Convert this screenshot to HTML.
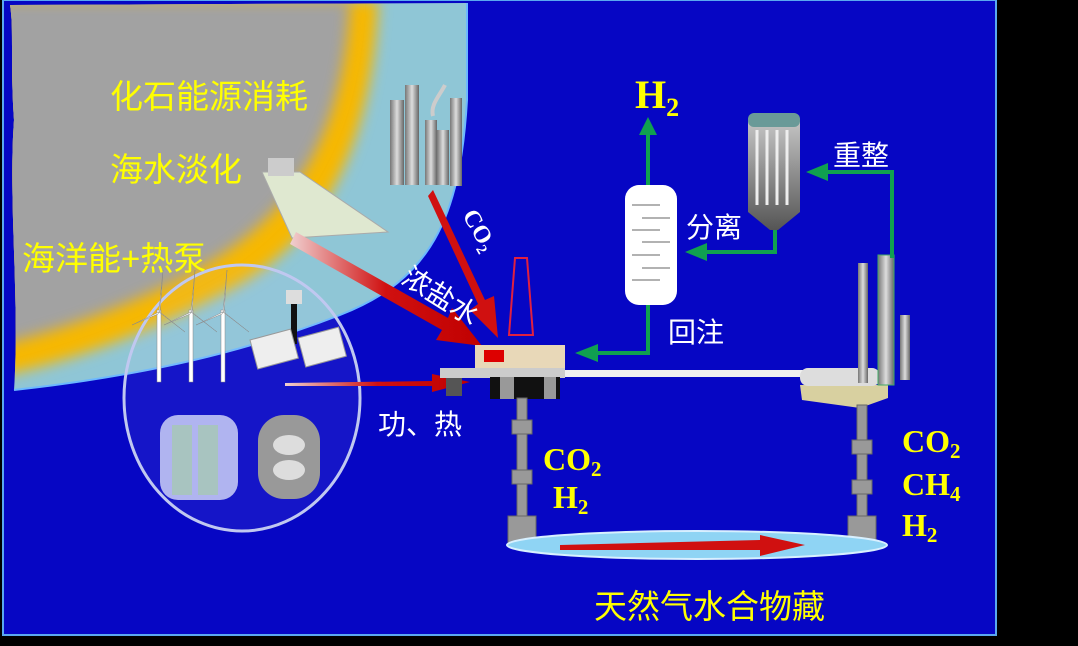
<!DOCTYPE html>
<html><head><meta charset="utf-8"><style>
html,body{margin:0;padding:0;background:#000;width:1078px;height:646px;overflow:hidden}
svg{display:block}
.cn{font-family:"Liberation Sans","Noto Sans CJK SC",sans-serif;font-weight:normal}
.sf{font-family:"Liberation Serif",serif;font-weight:bold;fill:#ffff00}
</style></head><body>
<svg width="1078" height="646" viewBox="0 0 1078 646" xmlns="http://www.w3.org/2000/svg">
<defs>
<filter id="b1" x="-20%" y="-20%" width="140%" height="140%"><feGaussianBlur stdDeviation="7"/></filter>
<linearGradient id="ra" x1="0" y1="0" x2="1" y2="0"><stop offset="0" stop-color="#f0d0d0"/><stop offset="0.5" stop-color="#d01010"/><stop offset="1" stop-color="#c00000"/></linearGradient>
<linearGradient id="tw" x1="0" y1="0" x2="1" y2="0"><stop offset="0" stop-color="#777"/><stop offset="0.5" stop-color="#ddd"/><stop offset="1" stop-color="#666"/></linearGradient>
<linearGradient id="rf" x1="0" y1="0" x2="0" y2="1"><stop offset="0" stop-color="#ccc"/><stop offset="1" stop-color="#555"/></linearGradient>
<clipPath id="outer"><path d="M10,5 L467,3 L467,100 C460,220 430,280 340,315 C250,350 150,375 14,390 C20,300 8,200 14,120 C10,60 14,30 10,5 Z"/></clipPath>
</defs>
<rect x="3" y="0" width="993" height="635" fill="#0606c4" stroke="#5aa8f0" stroke-width="2"/>
<g clip-path="url(#outer)">
<rect x="0" y="0" width="480" height="400" fill="#8fc6d6"/>
<path d="M0,0 L378,0 C372,150 320,245 225,292 C150,332 70,362 0,376 Z" fill="#f7b800" filter="url(#b1)"/>
<path d="M0,0 L350,0 C345,125 300,210 205,265 C135,305 60,330 0,345 Z" fill="#a2a2a2" filter="url(#b1)"/>
</g>
<path d="M467,3 L467,100 C460,220 430,280 340,315 C250,350 150,375 14,390" fill="none" stroke="#6cb8ff" stroke-width="2"/>
<ellipse cx="242" cy="398" rx="118" ry="133" fill="rgba(200,210,255,0.08)" stroke="#c0c8f0" stroke-width="3"/>
<g fill="#fff" stroke="#888" stroke-width="0.5">
<rect x="157" y="310" width="4" height="72"/><path d="M159,312 L163,270 L160,312 Z M159,312 L132,325 L158,314 Z M159,312 L185,332 L161,313 Z"/>
<rect x="189" y="310" width="4" height="72"/><path d="M191,312 L195,270 L192,312 Z M191,312 L164,325 L190,314 Z M191,312 L217,332 L193,313 Z"/>
<rect x="221" y="310" width="4" height="72"/><path d="M223,312 L227,270 L224,312 Z M223,312 L196,325 L222,314 Z M223,312 L249,332 L225,313 Z"/>
</g>
<rect x="291" y="302" width="6" height="42" fill="#111"/><rect x="286" y="290" width="16" height="14" fill="#ddd"/>
<g transform="translate(250,340) rotate(-15)"><rect x="0" y="0" width="42" height="30" fill="#eee" stroke="#999"/></g>
<g transform="translate(298,338) rotate(-15)"><rect x="0" y="0" width="42" height="30" fill="#eee" stroke="#999"/></g>
<rect x="160" y="415" width="78" height="85" rx="18" fill="#b0b4f0"/>
<rect x="172" y="425" width="20" height="70" fill="#a8c4c0"/><rect x="198" y="425" width="20" height="70" fill="#a8c4c0"/>
<rect x="258" y="415" width="62" height="84" rx="26" fill="#999"/>
<ellipse cx="289" cy="445" rx="16" ry="10" fill="#ddd"/><ellipse cx="289" cy="470" rx="16" ry="10" fill="#ddd"/>
<path d="M262,172 L300,172 L388,232 L292,238 Z" fill="#dfe8d0" stroke="#aaa"/>
<rect x="268" y="158" width="26" height="18" fill="#ccc"/>
<g fill="url(#tw)"><rect x="390" y="100" width="14" height="85"/><rect x="405" y="85" width="14" height="100"/><rect x="425" y="120" width="12" height="65"/><rect x="437" y="130" width="12" height="55"/><rect x="450" y="98" width="12" height="88"/></g>
<path d="M433,116 C430,105 440,95 445,85" stroke="#ccc" stroke-width="4" fill="none"/>
<path d="M296,232 L448,318 L452,308 L482,346 L436,340 L442,330 L290,244 Z" fill="url(#ra)"/>
<path d="M433,190 L485,300 L494,296 L498,338 L470,310 L478,304 L428,196 Z" fill="#d01010"/>
<path d="M285,383 L432,381 L432,374 L470,382 L432,392 L432,386 L285,386 Z" fill="url(#ra)"/>
<path d="M515,258 L527,258 L533,335 L509,335 Z" fill="none" stroke="#e02040" stroke-width="2"/>
<rect x="475" y="345" width="90" height="25" fill="#e8d8b8"/>
<rect x="484" y="350" width="20" height="12" fill="#d00"/>
<rect x="440" y="368" width="125" height="10" fill="#ccc"/>
<rect x="490" y="377" width="70" height="22" fill="#111"/>
<rect x="500" y="377" width="14" height="22" fill="#999"/><rect x="544" y="377" width="12" height="22" fill="#999"/>
<rect x="446" y="378" width="16" height="18" fill="#555"/>
<rect x="565" y="370" width="240" height="7" fill="#f0f0f0"/>
<path d="M800,385 L888,385 L888,398 L860,408 L802,400 Z" fill="#d8d0a0"/>
<rect x="800" y="368" width="80" height="18" rx="8" fill="#ddd"/>
<rect x="858" y="263" width="10" height="120" fill="url(#tw)"/>
<rect x="878" y="255" width="16" height="130" fill="url(#tw)" stroke="#4a6" stroke-width="1"/>
<rect x="900" y="315" width="10" height="65" fill="url(#tw)"/>
<g fill="#999" stroke="#666">
<rect x="517" y="398" width="10" height="122"/><rect x="512" y="420" width="20" height="14"/><rect x="512" y="470" width="20" height="14"/>
<rect x="508" y="516" width="28" height="30"/>
<rect x="857" y="405" width="10" height="115"/><rect x="852" y="440" width="20" height="14"/><rect x="852" y="480" width="20" height="14"/>
<rect x="848" y="516" width="28" height="30"/>
</g>
<ellipse cx="697" cy="545" rx="190" ry="14" fill="#8fd4f4" stroke="#d8f0ff" stroke-width="2"/>
<path d="M560,545 L760,540 L760,535 L805,545 L760,556 L760,550 L560,550 Z" fill="#d01010"/>
<rect x="625" y="185" width="52" height="120" rx="14" fill="#fff"/>
<g stroke="#666" stroke-width="1"><line x1="632" y1="205" x2="660" y2="205"/><line x1="642" y1="218" x2="670" y2="218"/><line x1="632" y1="230" x2="660" y2="230"/><line x1="642" y1="242" x2="670" y2="242"/><line x1="632" y1="255" x2="660" y2="255"/><line x1="642" y1="268" x2="670" y2="268"/><line x1="632" y1="280" x2="660" y2="280"/></g>
<path d="M748,122 Q748,113 774,113 Q800,113 800,122 L800,212 L778,230 L770,230 L748,212 Z" fill="url(#rf)"/>
<rect x="748" y="113" width="52" height="14" rx="6" fill="#6a9a98"/>
<g stroke="#eee" stroke-width="3"><line x1="757" y1="130" x2="757" y2="205"/><line x1="767" y1="130" x2="767" y2="205"/><line x1="777" y1="130" x2="777" y2="205"/><line x1="787" y1="130" x2="787" y2="205"/></g>
<g stroke="#10a050" stroke-width="4" fill="none">
<polyline points="648,185 648,130"/>
<polyline points="648,305 648,353 595,353"/>
<polyline points="775,230 775,252 705,252"/>
<polyline points="892,258 892,172 825,172"/>
</g>
<g fill="#10a050">
<path d="M639,135 L648,117 L657,135 Z"/>
<path d="M575,353 L598,344 L598,362 Z"/>
<path d="M685,252 L707,243 L707,261 Z"/>
<path d="M806,172 L828,163 L828,181 Z"/>
</g>
<g class="cn" fill="#ffff00" font-size="33">
<text x="110" y="108">化石能源消耗</text>
<text x="110" y="181">海水淡化</text>
<text x="22" y="270">海洋能+热泵</text>
<text x="594" y="618">天然气水合物藏</text>
</g>
<g class="cn" fill="#fff" font-size="28">
<text x="378" y="434">功、热</text>
<text x="833" y="165">重整</text>
<text x="686" y="237">分离</text>
<text x="668" y="342">回注</text>
<text transform="translate(400,282) rotate(32)">浓盐水</text>
</g>
<text transform="translate(462,215) rotate(60)" font-family="Liberation Serif,serif" font-size="24" fill="#fff" font-weight="bold">CO<tspan font-size="15" dy="5">2</tspan></text>
<text x="635" y="108" class="sf" font-size="40">H<tspan font-size="26" dy="8">2</tspan></text>
<text x="543" y="470" class="sf" font-size="32">CO<tspan font-size="21" dy="6">2</tspan></text>
<text x="553" y="508" class="sf" font-size="32">H<tspan font-size="21" dy="6">2</tspan></text>
<text x="902" y="452" class="sf" font-size="32">CO<tspan font-size="21" dy="6">2</tspan></text>
<text x="902" y="495" class="sf" font-size="32">CH<tspan font-size="21" dy="6">4</tspan></text>
<text x="902" y="536" class="sf" font-size="32">H<tspan font-size="21" dy="6">2</tspan></text>
</svg>
</body></html>
